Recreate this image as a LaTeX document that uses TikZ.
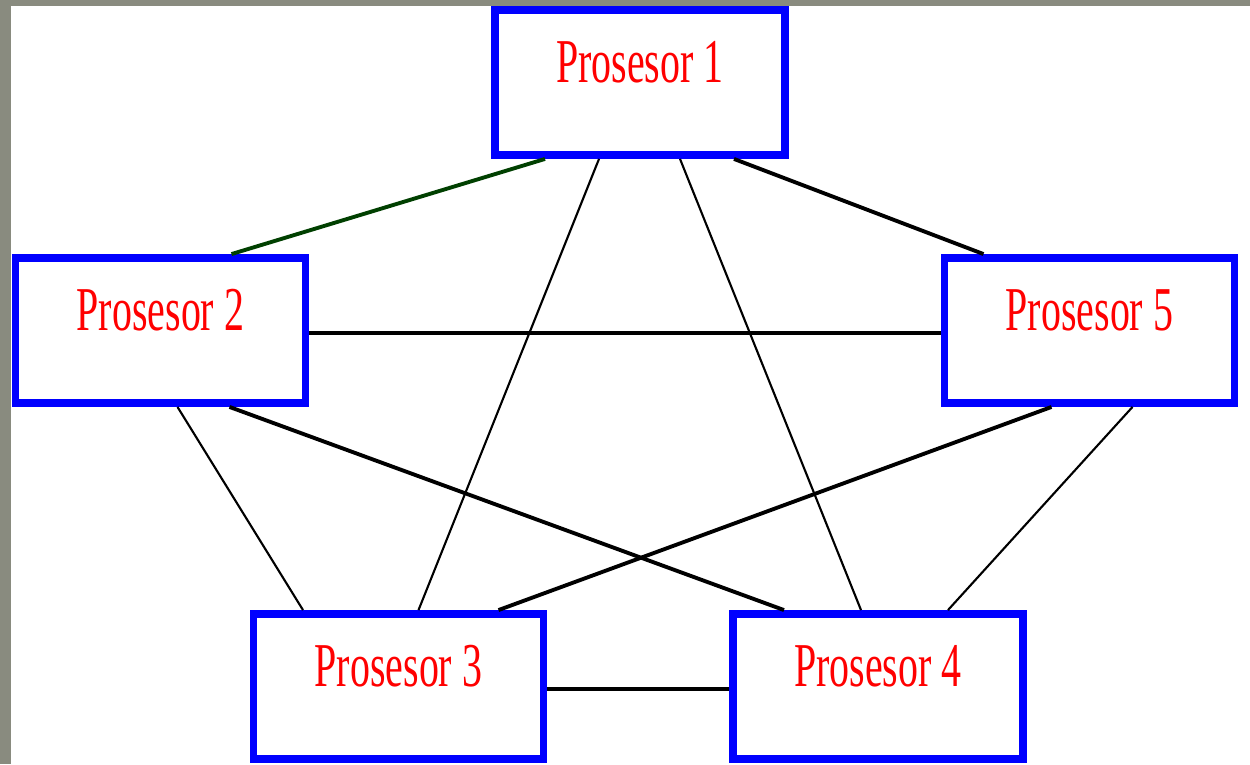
\documentclass[tikz,border=0pt]{standalone}
\usepackage{fontspec}
\newfontfamily\procfont[FakeStretch=0.64]{Liberation Serif}
\definecolor{bggray}{RGB}{137,139,127}
\definecolor{linkgreen}{RGB}{0,64,0}

\begin{document}
\begin{tikzpicture}[x=0.02cm, y=-0.02cm,
    proc/.style={draw=blue, line width=4.5pt, fill=white, minimum width=5.8cm, minimum height=2.9cm,
        inner sep=0pt, text=red, font=\procfont\fontsize{35.5}{36}\selectfont, text height=24pt, text depth=24pt},
    thinlink/.style={black, line width=1.2pt},
    thicklink/.style={black, line width=2.2pt}]

    % Background and frame
    \fill[bggray] (0,0) rectangle (1250,764);
    \fill[white] (11,6) rectangle (1250,764);
    \useasboundingbox (0,0) rectangle (1250,764);

    % Processors
    \node[proc] (p1) at (640,82.5) {Prosesor 1};
    \node[proc] (p2) at (160.5,330.5) {Prosesor 2};
    \node[proc] (p5) at (1089.5,330.5) {Prosesor 5};
    \node[proc] (p3) at (398.5,686.5) {Prosesor 3};
    \node[proc] (p4) at (878,686.5) {Prosesor 4};

    % Links from processor 1
    \draw[thicklink, linkgreen] ([shift={(-95,0)}]p1.south) -- ([shift={(71,0)}]p2.north);
    \draw[thinlink] ([shift={(-41,0)}]p1.south) -- ([shift={(20,0)}]p3.north);
    \draw[thinlink] ([shift={(40,0)}]p1.south) -- ([shift={(-17,0)}]p4.north);
    \draw[thicklink] ([shift={(94,0)}]p1.south) -- ([shift={(-106,0)}]p5.north);

    % Links from processor 2
    \draw[thicklink] ([shift={(0,2.5)}]p2.east) -- ([shift={(0,2.5)}]p5.west);
    \draw[thinlink] ([shift={(17,0)}]p2.south) -- ([shift={(-95.5,0)}]p3.north);
    \draw[thicklink] ([shift={(69,0)}]p2.south) -- ([shift={(-94,0)}]p4.north);

    % Links from processor 5
    \draw[thicklink] ([shift={(-38,0)}]p5.south) -- ([shift={(100,0)}]p3.north);
    \draw[thinlink] ([shift={(43,0)}]p5.south) -- ([shift={(70,0)}]p4.north);

    % Link between 3 and 4
    \draw[thicklink] ([shift={(0,2.5)}]p3.east) -- ([shift={(0,2.5)}]p4.west);

\end{tikzpicture}
\end{document}
